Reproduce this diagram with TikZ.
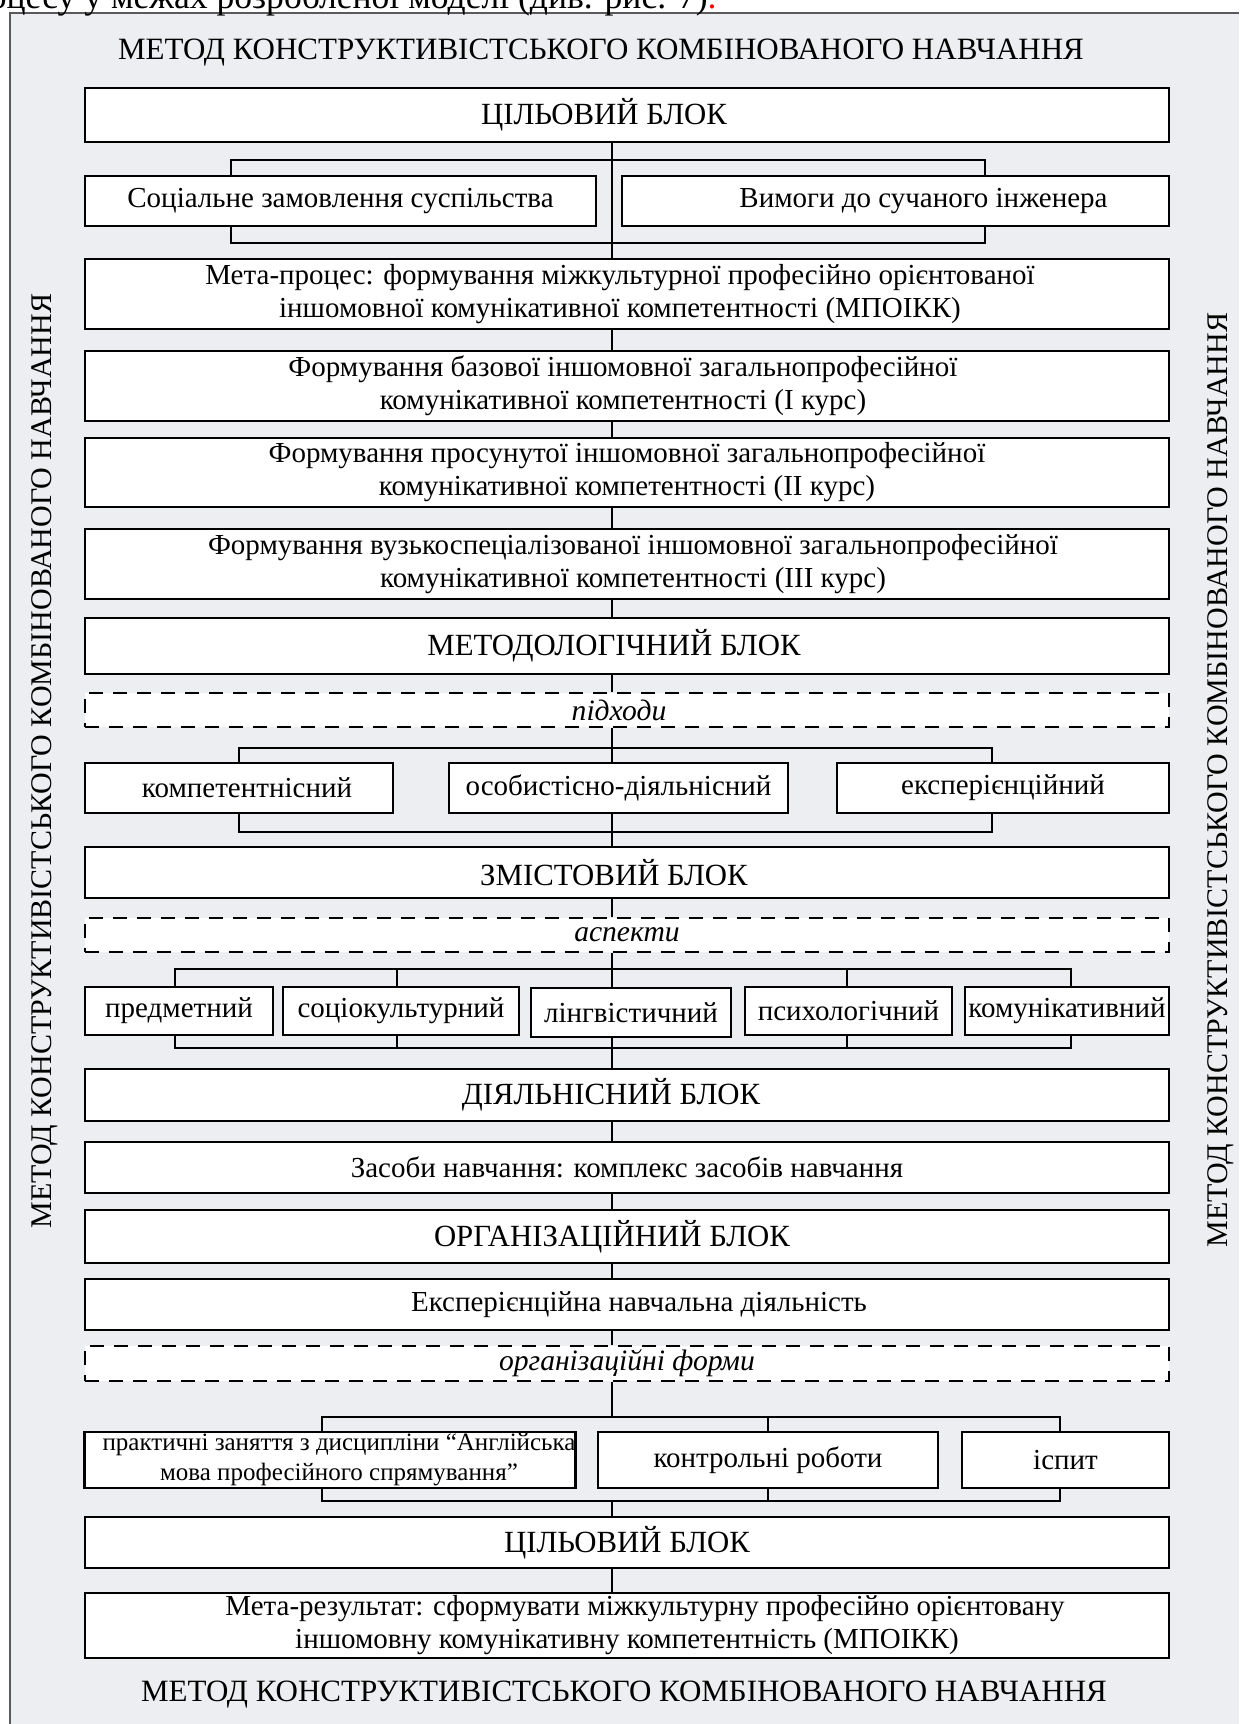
\documentclass[tikz,border=0pt]{standalone}
\usepackage{fontspec}
\setmainfont{Liberation Serif}
\usetikzlibrary{calc}
\definecolor{bggray}{RGB}{237,238,241}
\definecolor{framegray}{RGB}{90,90,90}
\tikzset{
  box/.style={draw=black, line width=1.1pt, fill=white, inner sep=0pt, align=center,
    font=\fontsize{14.5pt}{16.5pt}\selectfont},
  bigbox/.style={box, font=\fontsize{15.4pt}{17pt}\selectfont},
  dbox/.style={box, dash pattern=on 7pt off 5pt, font=\fontsize{14.8pt}{16.5pt}\selectfont\itshape},
  smallbox/.style={box, font=\fontsize{12.5pt}{15pt}\selectfont},
  conn/.style={line width=0.75pt, line join=miter},
  titletext/.style={inner sep=0pt, font=\fontsize{15.5pt}{17pt}\selectfont},
  sidetext/.style={inner sep=0pt, rotate=90, font=\fontsize{15pt}{17pt}\selectfont}
}
\newcommand\shft[1]{\hspace*{#1}}
\begin{document}
\begin{tikzpicture}[x=0.5pt, y=-0.5pt]
\useasboundingbox (0,0) rectangle (1239,1724);
\clip (0,0) rectangle (1239,1724);
\fill[white] (0,0) rectangle (1239,1724);
\fill[bggray] (10,13) rectangle (1239,1724);
\draw[framegray, line width=0.8pt] (10,1724) -- (10,13) -- (1239,13);
\node[anchor=base east, inner sep=0pt, font=\fontsize{17.8pt}{19pt}\selectfont] (cut) at (717,9) {процесу у межах розробленої моделі (див. рис. 7)\textcolor{red}{.}};

% titles
\node[titletext] (ttop) at (601,53) {МЕТОД КОНСТРУКТИВІСТСЬКОГО КОМБІНОВАНОГО НАВЧАННЯ};
\node[titletext] (tbot) at (624,1695) {МЕТОД КОНСТРУКТИВІСТСЬКОГО КОМБІНОВАНОГО НАВЧАННЯ};
\node[sidetext] (tleft) at (45,761) {МЕТОД КОНСТРУКТИВІСТСЬКОГО КОМБІНОВАНОГО НАВЧАННЯ};
\node[sidetext] (tright) at (1221,780) {МЕТОД КОНСТРУКТИВІСТСЬКОГО КОМБІНОВАНОГО НАВЧАННЯ};

% spine coordinate
\coordinate (sp) at (612,0);

% boxes
\node[bigbox, minimum width=542pt, minimum height=27pt] (cil1) at (627,115) {\shft{-23pt}ЦІЛЬОВИЙ БЛОК};
\node[box, minimum width=255.5pt, minimum height=25pt] (soc) at (340.5,201) {Соціальне замовлення суспільства};
\node[box, minimum width=273.5pt, minimum height=25pt] (vym) at (895.5,201) {\shft{28pt}Вимоги до сучаного інженера};
\node[box, minimum width=542pt, minimum height=35pt] (meta) at (627,294) {\shft{-7pt}Мета-процес: формування міжкультурної професійно орієнтованої\\\shft{-7pt}іншомовної комунікативної компетентності (МПОІКК)};
\node[box, minimum width=542pt, minimum height=35pt] (f1) at (627,386) {\shft{-4pt}Формування базової іншомовної загальнопрофесійної\\\shft{-4pt}комунікативної компетентності (І курс)};
\node[box, minimum width=542pt, minimum height=34.5pt] (f2) at (627,472.5) {Формування просунутої іншомовної загальнопрофесійної\\комунікативної компетентності (ІІ курс)};
\node[box, minimum width=542pt, minimum height=35pt] (f3) at (627,564) {\shft{6pt}Формування вузькоспеціалізованої іншомовної загальнопрофесійної\\\shft{6pt}комунікативної компетентності (ІІІ курс)};
\node[bigbox, minimum width=542pt, minimum height=28pt] (metod) at (627,646) {\shft{-13pt}МЕТОДОЛОГІЧНИЙ БЛОК};
\node[dbox, minimum width=542pt, minimum height=17pt] (pidh) at (627,710) {\shft{-8pt}підходи};
\node[box, minimum width=154pt, minimum height=25pt] (k1) at (239,788) {\shft{8pt}компетентнісний};
\node[box, minimum width=169.5pt, minimum height=25pt] (k2) at (618.5,788) {особистісно-діяльнісний};
\node[box, minimum width=166pt, minimum height=25pt] (k3) at (1003,788) {експерієнційний};
\node[bigbox, minimum width=542pt, minimum height=25.5pt] (zmist) at (627,872.5) {\shft{-13pt}ЗМІСТОВИЙ БЛОК};
\node[dbox, minimum width=542pt, minimum height=17pt] (asp) at (627,935) {аспекти};
\node[box, minimum width=94pt, minimum height=24pt] (a1) at (179,1011) {предметний};
\node[box, minimum width=118pt, minimum height=24pt] (a2) at (401,1011) {соціокультурний};
\node[box, minimum width=100pt, minimum height=24.5pt] (a3) at (631,1012.5) {лінгвістичний};
\node[box, minimum width=103.5pt, minimum height=24pt] (a4) at (848.5,1011) {психологічний};
\node[box, minimum width=102pt, minimum height=24pt] (a5) at (1067,1011) {комунікативний};
\node[bigbox, minimum width=542pt, minimum height=26pt] (diyal) at (627,1095) {\shft{-16pt}ДІЯЛЬНІСНИЙ БЛОК};
\node[box, minimum width=542pt, minimum height=25.5pt] (zas) at (627,1167.5) {Засоби навчання: комплекс засобів навчання};
\node[bigbox, minimum width=542pt, minimum height=26.5pt] (org) at (627,1236.5) {\shft{-15pt}ОРГАНІЗАЦІЙНИЙ БЛОК};
\node[box, minimum width=542pt, minimum height=25.5pt] (eksp) at (627,1304.5) {\shft{12pt}Експерієнційна навчальна діяльність};
\node[dbox, minimum width=542pt, minimum height=17.5pt] (orgf) at (627,1363.5) {організаційні форми};
\node[smallbox, minimum width=245pt, minimum height=28pt] (p1) at (330,1460) {\shft{9pt}практичні заняття з дисципліни “Англійська\\\shft{9pt}мова професійного спрямування”};
\node[box, minimum width=170pt, minimum height=28pt] (p2) at (768,1460) {контрольні роботи};
\node[box, minimum width=103.5pt, minimum height=28pt] (p3) at (1065.5,1460) {іспит};
\node[bigbox, minimum width=542pt, minimum height=25.5pt] (cil2) at (627,1542.5) {ЦІЛЬОВИЙ БЛОК};
\node[box, minimum width=542pt, minimum height=32.5pt] (res) at (627,1625.5) {\shft{18pt}Мета-результат: сформувати міжкультурну професійно орієнтовану\\іншомовну комунікативну компетентність (МПОІКК)};

% bracket coordinates
\coordinate (b1l) at (231,160); \coordinate (b1r) at (985,160);
\coordinate (b1L) at (231,243); \coordinate (b1R) at (985,243);
\coordinate (b2l) at (239,748); \coordinate (b2r) at (992,748);
\coordinate (b2L) at (239,832); \coordinate (b2R) at (992,832);
\coordinate (b3a) at (175,969); \coordinate (b3b) at (397,969); \coordinate (b3d) at (847,969); \coordinate (b3e) at (1071,969);
\coordinate (b3A) at (175,1048); \coordinate (b3B) at (397,1048); \coordinate (b3D) at (847,1048); \coordinate (b3E) at (1071,1048);
\coordinate (b4a) at (322,1417); \coordinate (b4b) at (768,1417); \coordinate (b4c) at (1060,1417);
\coordinate (b4A) at (322,1501); \coordinate (b4B) at (768,1501); \coordinate (b4C) at (1060,1501);

% connectors
\draw[conn] (cil1.south -| sp) -- (meta.north -| sp);
\draw[conn] (b1l |- soc.north) -- (b1l) -- (b1r) -- (b1r |- vym.north);
\draw[conn] (b1L |- soc.south) -- (b1L) -- (b1R) -- (b1R |- vym.south);
\draw[conn] (meta.south -| sp) -- (f1.north -| sp);
\draw[conn] (f1.south -| sp) -- (f2.north -| sp);
\draw[conn] (f2.south -| sp) -- (f3.north -| sp);
\draw[conn] (f3.south -| sp) -- (metod.north -| sp);
\draw[conn] (metod.south -| sp) -- (pidh.north -| sp);
\draw[conn] (pidh.south -| sp) -- (k2.north -| sp);
\draw[conn] (b2l |- k1.north) -- (b2l) -- (b2r) -- (b2r |- k3.north);
\draw[conn] (b2L |- k1.south) -- (b2L) -- (b2R) -- (b2R |- k3.south);
\draw[conn] (k2.south -| sp) -- (zmist.north -| sp);
\draw[conn] (zmist.south -| sp) -- (asp.north -| sp);
\draw[conn] (asp.south -| sp) -- (a3.north -| sp);
\draw[conn] (b3a |- a1.north) -- (b3a) -- (b3e) -- (b3e |- a5.north);
\draw[conn] (b3b) -- (b3b |- a2.north);
\draw[conn] (b3d) -- (b3d |- a4.north);
\draw[conn] (b3A |- a1.south) -- (b3A) -- (b3E) -- (b3E |- a5.south);
\draw[conn] (b3B) -- (b3B |- a2.south);
\draw[conn] (b3D) -- (b3D |- a4.south);
\draw[conn] (a3.south -| sp) -- (diyal.north -| sp);
\draw[conn] (diyal.south -| sp) -- (zas.north -| sp);
\draw[conn] (zas.south -| sp) -- (org.north -| sp);
\draw[conn] (org.south -| sp) -- (eksp.north -| sp);
\draw[conn] (eksp.south -| sp) -- (orgf.north -| sp);
\draw[conn] (orgf.south -| sp) -- (b4a -| sp);
\draw[conn] (b4a |- p1.north) -- (b4a) -- (b4c) -- (b4c |- p3.north);
\draw[conn] (b4b) -- (b4b |- p2.north);
\draw[conn] (b4A |- p1.south) -- (b4A) -- (b4C) -- (b4C |- p3.south);
\draw[conn] (b4B) -- (b4B |- p2.south);
\draw[conn] (b4A -| sp) -- (cil2.north -| sp);
\draw[conn] (cil2.south -| sp) -- (res.north -| sp);
\end{tikzpicture}
\end{document}
